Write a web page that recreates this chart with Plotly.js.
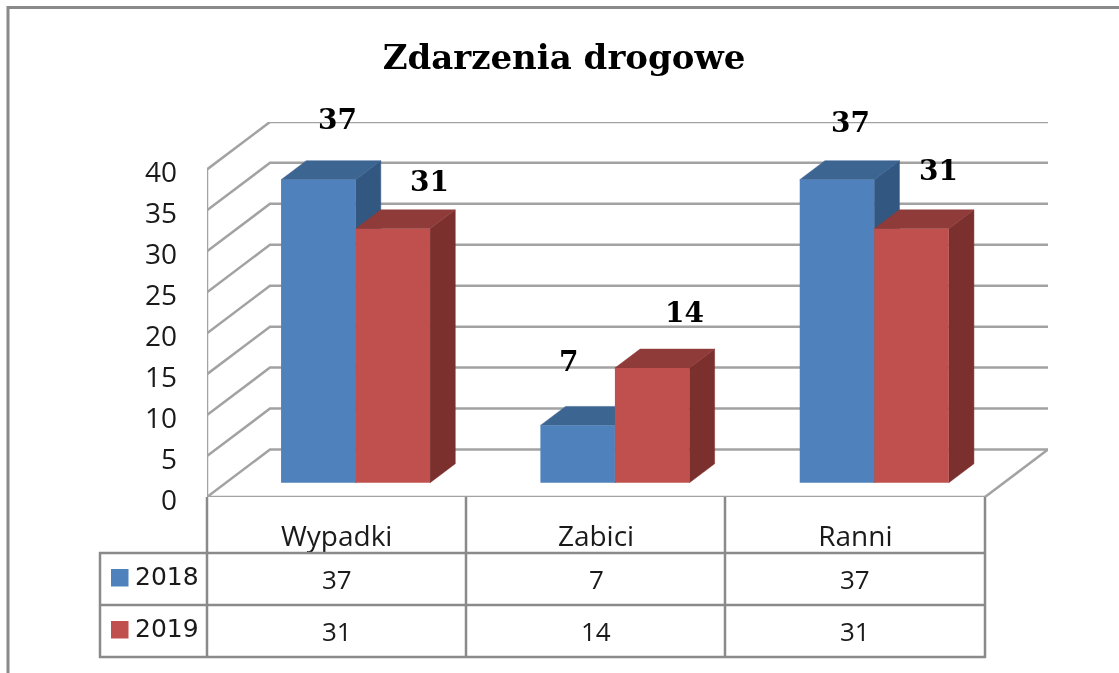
<!DOCTYPE html>
<html><head><meta charset="utf-8">
<script src="https://cdn.plot.ly/plotly-3.0.1.min.js"></script>
<style>html,body{margin:0;padding:0;background:#fff;overflow:hidden}#c{width:1119px;height:673px;filter:blur(0.5px)}</style>
</head><body><div id="c"></div>
<script>
var categories = ['Wypadki', 'Zabici', 'Ranni'];
var seriesNames = ['2018', '2019'];
var values2018 = [37, 7, 37];
var values2019 = [31, 14, 31];
var yTicks = [0, 5, 10, 15, 20, 25, 30, 35, 40];
var chartTitle = 'Zdarzenia drogowe';

var W = 1119, H = 673;
var mL = 207, mR = 71, mT = 122, mB = 176;
var pxPerCat = 259.33, pxPerVal = 8.19;
var xMax = (W - mL - mR) / pxPerCat, yMax = (H - mT - mB) / pxPerVal;
var dX = 63 / pxPerCat, dY = 47.5 / pxPerVal;      // full depth of the chart box
var barW = 74.5 / pxPerCat, d0 = 0.3, d1 = 0.7;    // bar width and depth span

var gridCol = '#a2a2a2', frameCol = '#8a8a8a', textCol = '#1a1a1a';
var blue = {front:'#4f81bd', top:'#3d6592', side:'#325780'};
var red = {front:'#c0504d', top:'#8f3b39', side:'#7b302e'};

// box lines
var gx = [], gy = [];
yTicks.forEach(function (v) {
  gx.push(0, dX, 3 + dX, null); gy.push(v, v + dY, v + dY, null);
});
gx.push(0, 0, null, 3, 3 + dX, null, 0, 3, null); gy.push(0, 40, null, 0, dY, null, 0, 0, null);

var traces = [{type:'scatter', mode:'lines', x:gx, y:gy, line:{color:gridCol, width:2.5}, hoverinfo:'skip', showlegend:false, xaxis:'x', yaxis:'y'}];

function centers(offset) { return categories.map(function (_, i) { return i + 0.5 + offset * barW + d0 * dX; }); }
function poly(x, y, color) {
  return {type:'scatter', mode:'lines', x:x, y:y, fill:'toself', fillcolor:color, line:{color:color, width:0.5}, hoverinfo:'skip', showlegend:false, xaxis:'x', yaxis:'y'};
}
function faces(vals, offset, c) {
  var cs = centers(offset), b = d0 * dY, ex = (d1 - d0) * dX, ey = (d1 - d0) * dY;
  vals.forEach(function (v, i) {
    var l = cs[i] - barW / 2, r = cs[i] + barW / 2, t = b + v;
    traces.push(poly([r, r + ex, r + ex, r, r], [b, b + ey, t + ey, t, b], c.side));
    traces.push(poly([l, l + ex, r + ex, r, l], [t, t + ey, t + ey, t, t], c.top));
  });
}
faces(values2018, -0.5, blue);
faces(values2019, 0.5, red);

function frontBars(vals, offset, c, name) {
  traces.push({type:'bar', name:name, x:centers(offset), y:vals, base:vals.map(function () { return d0 * dY; }),
    width:barW, marker:{color:c.front, line:{width:0}}, showlegend:false, hoverinfo:'skip', xaxis:'x2', yaxis:'y2'});
}
frontBars(values2018, -0.5, blue, seriesNames[0]);
frontBars(values2019, 0.5, red, seriesNames[1]);

function px(v) { return (v - mL) / (W - mL - mR); }
function py(v) { return 1 - (v - mT) / (H - mT - mB); }
function seg(x0, y0, x1, y1, col, w) {
  return {type:'line', xref:'paper', yref:'paper', x0:px(x0), y0:py(y0), x1:px(x1), y1:py(y1), line:{color:col, width:w}, layer:'above'};
}
var shapes = [];
// outer picture frame
shapes.push(seg(8, 7.5, W, 7.5, frameCol, 3), seg(8, 6, 8, H, frameCol, 3));
// data table
[207, 466, 725, 985].forEach(function (x) { shapes.push(seg(x, 497, x, 658, frameCol, 2.5)); });
shapes.push(seg(99, 553, 985, 553, frameCol, 2.5), seg(99, 605, 985, 605, frameCol, 2.5), seg(99, 657, 986, 657, frameCol, 2.5), seg(100, 552, 100, 658, frameCol, 2.5));
// legend keys
[[569, blue.front], [621, red.front]].forEach(function (k) {
  shapes.push({type:'rect', xref:'paper', yref:'paper', x0:px(111), x1:px(128.5), y0:py(k[0]), y1:py(k[0] + 17.5), fillcolor:k[1], line:{width:0}, layer:'above'});
});

var ann = [];
var tableFont = {family:'"Open Sans", sans-serif', size:26, color:textCol};
var axisFont = {family:'"Open Sans", sans-serif', size:28, color:textCol};
[values2018, values2019].forEach(function (vals, r) {
  var yp = [579, 631][r];
  vals.forEach(function (v, i) {
    ann.push({xref:'x', yref:'paper', x:i + 0.5, y:py(yp), text:String(v), showarrow:false, font:tableFont, xanchor:'center', yanchor:'middle'});
  });
  ann.push({xref:'paper', yref:'paper', x:px(167), y:py(yp - 3), text:seriesNames[r], showarrow:false, font:{family:'"DejaVu Sans", sans-serif', size:25, color:textCol}, xanchor:'center', yanchor:'middle'});
});

// data labels, moved by hand off their bars in the reference
var labelFont = {family:'"DejaVu Serif", serif', size:28, color:'#000', weight:'bold'};
var labelPx = [[338, 120, 429, 182], [568, 361, 684, 312], [851, 123, 939, 170]];
function addLabels(vals, offset, idx) {
  var cs = centers(offset);
  vals.forEach(function (v, i) {
    var tx = (labelPx[i][idx] - mL) / pxPerCat;
    var ty = (497 - labelPx[i][idx + 1]) / pxPerVal;
    ann.push({xref:'x', yref:'y', x:cs[i], y:d0 * dY + v, xshift:(tx - cs[i]) * pxPerCat, yshift:(ty - d0 * dY - v) * pxPerVal,
      text:String(v), showarrow:false, font:labelFont, xanchor:'center', yanchor:'middle'});
  });
}
addLabels(values2018, -0.5, 0);
addLabels(values2019, 0.5, 2);

var layout = {
  width:W, height:H, margin:{l:mL, r:mR, t:mT, b:mB}, paper_bgcolor:'#fff', plot_bgcolor:'rgba(0,0,0,0)',
  barmode:'overlay', showlegend:false,
  title:{text:chartTitle, x:564 / W, xanchor:'center', y:1 - 57 / H, yanchor:'middle', font:{family:'"DejaVu Serif", serif', size:34, color:'#000', weight:'bold'}},
  xaxis:{range:[0, xMax], tickmode:'array', tickvals:[0.5, 1.5, 2.5], ticktext:categories, showgrid:false, zeroline:false, showline:false, ticks:'', ticklabelstandoff:20, tickfont:axisFont},
  yaxis:{range:[0, yMax], tickmode:'array', tickvals:yTicks, ticktext:yTicks.map(String), showgrid:false, zeroline:false, showline:false, ticks:'', ticklabelstandoff:29, ticklabelshift:3, tickfont:axisFont},
  xaxis2:{range:[0, xMax], overlaying:'x', anchor:'y2', visible:false},
  yaxis2:{range:[0, yMax], overlaying:'y', anchor:'x2', visible:false},
  shapes:shapes, annotations:ann
};
Plotly.newPlot('c', traces, layout, {displayModeBar:false, staticPlot:true});
</script></body></html>
